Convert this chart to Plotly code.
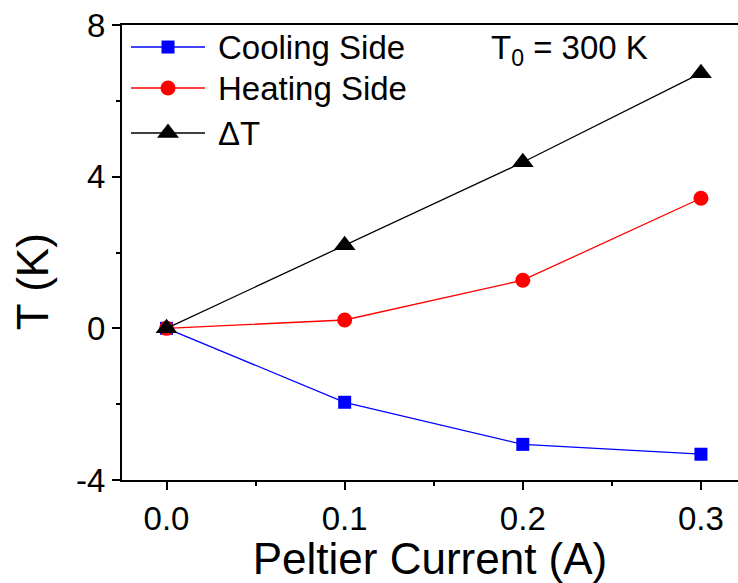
import plotly.graph_objects as go

# Peltier current (A) and measured temperature changes (K)
current = [0.0, 0.1, 0.2, 0.3]
cooling_side = [0.0, -1.95, -3.06, -3.32]
heating_side = [0.0, 0.22, 1.27, 3.43]
delta_t = [0.0, 2.19, 4.38, 6.73]

series_names = ["Cooling Side", "Heating Side", "\u0394T"]
series_colors = ["#0000ff", "#ff0000", "#000000"]
series_symbols = ["square", "circle", "triangle-up"]
series_sizes = [13, 15, 19]
series_values = [cooling_side, heating_side, delta_t]

x_ticks = [0.0, 0.1, 0.2, 0.3]
x_tick_text = ["0.0", "0.1", "0.2", "0.3"]
y_ticks = [-4, 0, 4, 8]
y_tick_text = ["-4", "0", "4", "8"]

FONT = "Liberation Sans, Arial, sans-serif"

fig = go.Figure()

# data series (drawn so that the last one sits on top)
for name, vals, col, sym, sz in zip(series_names, series_values, series_colors,
                                    series_symbols, series_sizes):
    fig.add_trace(go.Scatter(
        x=current, y=vals, mode="lines+markers", name=name,
        line=dict(color=col, width=1.3),
        marker=dict(color=col, symbol=sym, size=sz, line=dict(width=0)),
        showlegend=False, cliponaxis=False,
    ))

# legend keys on a hidden overlay axis in plot-fraction units
key_rows = [0.9516, 0.8615, 0.7626]
key_x0, key_xm, key_x1 = 0.0146, 0.0747, 0.1347
for name, col, sym, sz, ky in zip(series_names, series_colors, series_symbols,
                                  series_sizes, key_rows):
    fig.add_trace(go.Scatter(
        x=[key_x0, key_x1], y=[ky, ky], mode="lines",
        line=dict(color=col, width=1.3), xaxis="x2", yaxis="y2",
        showlegend=False, hoverinfo="skip",
    ))
    fig.add_trace(go.Scatter(
        x=[key_xm], y=[ky], mode="markers",
        marker=dict(color=col, symbol=sym, size=sz, line=dict(width=0)),
        xaxis="x2", yaxis="y2", showlegend=False, hoverinfo="skip",
    ))
    fig.add_annotation(
        x=0.1526, y=ky, xref="x2", yref="y2", text=name, showarrow=False,
        xanchor="left", yanchor="middle", font=dict(family=FONT, size=33, color="black"),
    )

fig.add_annotation(
    x=0.7265, y=0.945, xref="paper", yref="paper",
    text="T<sub>0</sub> = 300 K", showarrow=False,
    xanchor="center", yanchor="middle",
    font=dict(family=FONT, size=33, color="black"),
)

# vertical axis title, placed a little below the axis centre
fig.add_annotation(
    x=-0.146, y=0.435, xref="paper", yref="paper",
    text="T (K)", showarrow=False, textangle=-90,
    xanchor="center", yanchor="middle",
    font=dict(family=FONT, size=44, color="black"),
)

fig.update_layout(
    width=738, height=583,
    margin=dict(l=122, r=0, t=25, b=103),
    paper_bgcolor="white", plot_bgcolor="white",
    font=dict(family=FONT, color="black"),
    xaxis=dict(
        range=[-0.025, 0.3208], tickvals=x_ticks, ticktext=x_tick_text,
        showline=True, linecolor="black", linewidth=2, mirror=True,
        ticks="outside", ticklen=8, tickwidth=1.5, tickcolor="black",
        minor=dict(dtick=0.05, ticks="outside", ticklen=4, tickwidth=1.5, tickcolor="black"),
        showgrid=False, zeroline=False,
        tickfont=dict(family=FONT, size=33),
        title=dict(text="Peltier Current (A)", font=dict(family=FONT, size=44), standoff=6),
    ),
    yaxis=dict(
        range=[-4, 8], tickvals=y_ticks, ticktext=y_tick_text,
        showline=True, linecolor="black", linewidth=2, mirror=False,
        ticks="outside", ticklen=8, tickwidth=1.5, tickcolor="black",
        minor=dict(dtick=2, ticks="outside", ticklen=4, tickwidth=1.5, tickcolor="black"),
        showgrid=False, zeroline=False,
        tickfont=dict(family=FONT, size=33),
    ),
    xaxis2=dict(overlaying="x", range=[0, 1], visible=False, fixedrange=True),
    yaxis2=dict(overlaying="y", range=[0, 1], visible=False, fixedrange=True),
)

fig.write_html("out.html")
